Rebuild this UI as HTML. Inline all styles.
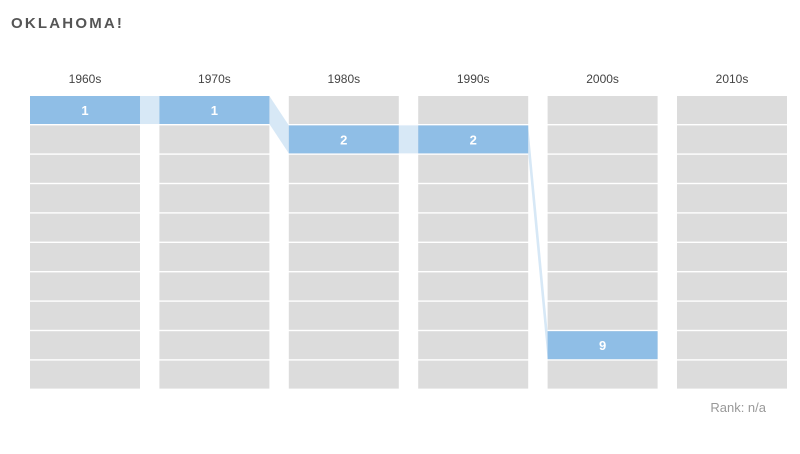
<!DOCTYPE html>
<html><head><meta charset="utf-8">
<style>
body{margin:0;background:#fff;width:800px;height:449px;overflow:hidden;font-family:"Liberation Sans",sans-serif;}
</style></head>
<body>
<svg id="chart" width="800" height="449" xmlns="http://www.w3.org/2000/svg">
<text x="11" y="28" font-size="15" font-weight="bold" fill="#555" letter-spacing="2.2">OKLAHOMA!</text>
<text x="766" y="412" font-size="13" fill="#999" text-anchor="end">Rank: n/a</text>
</svg>
<script>
const decades = ['1960s','1970s','1980s','1990s','2000s','2010s'];
const ranks = [1,1,2,2,9,null];
const rowCount = 10;

const svg = document.getElementById('chart');
const NS = 'http://www.w3.org/2000/svg';
const x0 = 30, colPitch = 129.4, colW = 110;
const y0 = 96, rowPitch = 29.4, rowH = 28;
const colX = i => x0 + i * colPitch;
const rowY = r => y0 + (r - 1) * rowPitch;

function mk(tag, attrs){const e=document.createElementNS(NS,tag);for(const k in attrs)e.setAttribute(k,attrs[k]);svg.appendChild(e);return e;}

decades.forEach((d,i)=>{
  const t = mk('text',{x:colX(i)+colW/2,y:83,'font-size':12,fill:'#444','text-anchor':'middle'});
  t.textContent = d;
  
  
  for(let r=1;r<=rowCount;r++){
    const c = mk('rect',{x:colX(i),y:rowY(r),width:colW,height:rowH,fill:'#dcdcdc'});
    
    
  }
});
// connectors
for(let i=0;i<ranks.length-1;i++){
  const a=ranks[i], b=ranks[i+1];
  if(a==null||b==null) continue;
  const xa=colX(i)+colW, xb=colX(i+1);
  const p = mk('polygon',{points:`${xa},${rowY(a)} ${xb},${rowY(b)} ${xb},${rowY(b)+rowH} ${xa},${rowY(a)+rowH}`,fill:'#d7e8f6'});
  
  
}
ranks.forEach((r,i)=>{
  if(r==null) return;
  const c = mk('rect',{x:colX(i),y:rowY(r),width:colW,height:rowH,fill:'#8fbee6'});
  
  
  const t = mk('text',{x:colX(i)+colW/2,y:rowY(r)+rowH/2+5,'font-size':13,'font-weight':'bold',fill:'#fff','text-anchor':'middle'});
  t.textContent = r;
  
  
});
</script>
</body></html>
